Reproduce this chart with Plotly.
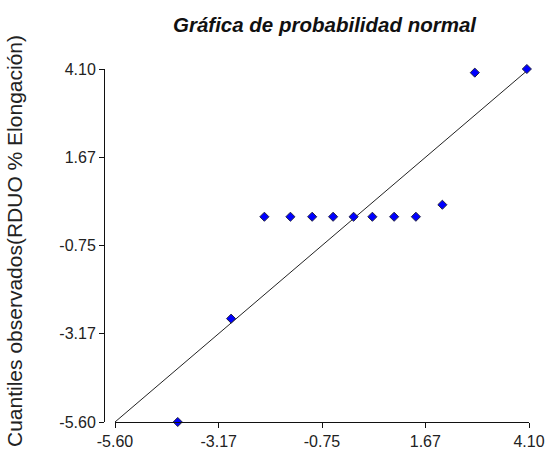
import plotly.graph_objects as go

# Data
theoretical = [-4.13, -2.88, -2.10, -1.49, -0.98, -0.49, -0.01, 0.43, 0.94, 1.45, 2.07, 2.83, 4.05]
observed = [-5.60, -2.76, 0.04, 0.04, 0.04, 0.04, 0.04, 0.04, 0.04, 0.04, 0.37, 4.00, 4.10]
ref_line_x = [-5.60, 4.10]
ref_line_y = [-5.60, 4.10]
tick_vals = [-5.60, -3.17, -0.75, 1.67, 4.10]
tick_text = ["-5.60", "-3.17", "-0.75", "1.67", "4.10"]
title_text = "Gráfica de probabilidad normal"
ytitle_text = "Cuantiles observados(RDUO % Elongación)"

W, H = 550, 453
L, R, T, B = 104, 21, 69, 31
plot_w = W - L - R
plot_h = H - T - B
x_start = (115 - L) / plot_w

fig = go.Figure()
fig.add_trace(go.Scatter(
    x=ref_line_x, y=ref_line_y, mode="lines",
    line=dict(color="#222222", width=1), hoverinfo="skip", showlegend=False,
    cliponaxis=False,
))
fig.add_trace(go.Scatter(
    x=theoretical, y=observed, mode="markers",
    marker=dict(symbol="diamond", size=7, color="#0000FF",
                line=dict(color="#222244", width=1)),
    showlegend=False, cliponaxis=False,
))

font_family = "Liberation Sans, Arial, sans-serif"
axis_common = dict(
    range=[-5.60, 4.10], tickvals=tick_vals, ticktext=tick_text,
    showgrid=False, zeroline=False, showline=True, linecolor="#111111", linewidth=1,
    ticks="outside", ticklen=5, tickcolor="#111111",
    tickfont=dict(size=16, color="#222222"), automargin=False,
)
fig.update_layout(
    width=W, height=H,
    margin=dict(l=L, r=R, t=T, b=B, pad=0, autoexpand=False),
    paper_bgcolor="white", plot_bgcolor="white",
    font=dict(family=font_family, color="#1a1a1a"),
    xaxis=dict(domain=[x_start, 1], anchor="y", **axis_common),
    yaxis=dict(anchor="free", position=0, **axis_common),
    showlegend=False,
)
fig.add_annotation(
    text="<b><i>" + title_text + "</i></b>", xref="paper", yref="paper",
    x=(325 - L) / plot_w, y=1 + (T - 24) / plot_h, xanchor="center", yanchor="middle",
    showarrow=False, font=dict(size=20.5, color="#111111", family=font_family),
)
fig.add_annotation(
    text=ytitle_text, xref="paper", yref="paper", textangle=-90,
    x=(14 - L) / plot_w, y=(H - B - 241) / plot_h, xanchor="center", yanchor="middle",
    showarrow=False, font=dict(size=21, color="#222222", family=font_family),
)
fig.write_html("out.html")
